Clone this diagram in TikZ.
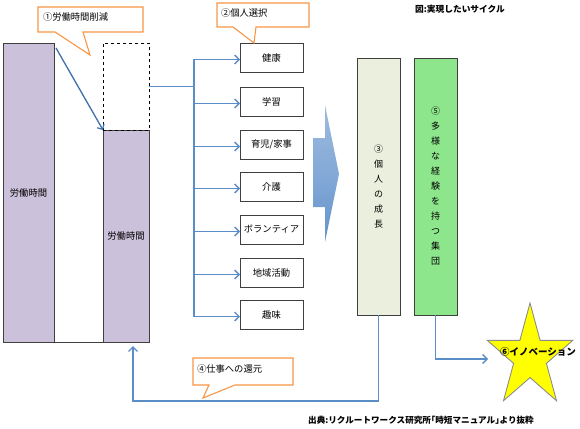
\documentclass[tikz,border=0pt]{standalone}
\usepackage{fontspec}
\newfontfamily\jp{Noto Sans CJK JP}
\usetikzlibrary{arrows.meta}
\definecolor{barpurple}{HTML}{CCC1DA}
\definecolor{edge}{HTML}{3F3F3F}
\definecolor{calloutline}{HTML}{F79646}
\definecolor{linkblue}{HTML}{5B8DC9}
\definecolor{cutblue}{HTML}{3F6FAE}
\definecolor{growthfill}{HTML}{EBF0DE}
\definecolor{groupfill}{HTML}{8EE68C}
\definecolor{staryellow}{HTML}{FFFF00}
\definecolor{stargray}{HTML}{8C8C8C}
\begin{document}
\begin{tikzpicture}[x=1pt,y=-1pt,
  every node/.style={font=\jp\fontsize{9.3}{11}\selectfont, inner sep=0pt, outer sep=0pt},
  bar/.style={draw=edge, line width=0.8pt, fill=barpurple, anchor=north west, minimum width=#1},
  bar/.default=46pt,
  choice/.style={draw=edge, line width=0.8pt, fill=white, minimum width=63pt, minimum height=29pt, anchor=north west},
  column/.style={draw=edge, line width=0.8pt, minimum width=43pt, minimum height=257pt, anchor=north west, align=center, font=\jp\fontsize{9}{15}\selectfont},
  link/.style={draw=linkblue, line width=1.4pt, -{Straight Barb[length=4.5pt,width=9pt,line width=1.3pt]}},
  plain/.style={draw=linkblue, line width=1.4pt},
  callout/.style={draw=calloutline, line width=1.1pt, fill=white},
  callouttext/.style={anchor=west, font=\jp\fontsize{9.3}{11}\selectfont},
]
\useasboundingbox (0,0) rectangle (580,428);

% working-time bars
\node[bar=51pt, minimum height=299pt] (bar1) at (3,43) {};
\node[bar, minimum height=212pt] (bar2) at (103,130) {};
\node[draw=black, dashed, line width=0.8pt, minimum width=46pt, minimum height=87pt, anchor=north west] (cut) at (103,43) {};
\draw[draw=edge, line width=0.8pt] (bar1.south east) -- (bar2.south west);
\node (lab1) at (bar1.center) {労働時間};
\node (lab2) at (bar2.center) {労働時間};
\draw[draw=cutblue, line width=1.3pt, -{Straight Barb[length=4pt,width=8pt,line width=1.2pt]}] ([xshift=2pt,yshift=-5pt]bar1.north east) -- (bar2.north west);

% callout 1
\draw[callout] (38,7) -- (143,7) -- (143,32) -- (83,32) -- (90,55) -- (55,32) -- (38,32) -- cycle;
\node[callouttext] (c1) at (43,17) {①労働時間削減};

% choices
\node[choice] (b1) at (240,43) {健康};
\node[choice] (b2) at (240,87) {学習};
\node[choice] (b3) at (240,130) {育児/家事};
\node[choice] (b4) at (240,172) {介護};
\node[choice] (b5) at (240,215) {ボランティア};
\node[choice] (b6) at (240,258) {地域活動};
\node[choice] (b7) at (240,300) {趣味};

\coordinate (split) at (194,86.5);
\draw[plain] (cut.east) -- (split);
\foreach \b in {b1,b2,b3,b4,b5,b6,b7} {
  \draw[link] (split) |- ([yshift=-2pt]\b.west);
}

% callout 2
\draw[callout] (217,3) -- (309,3) -- (309,27) -- (256,27) -- (254,43) -- (233,27) -- (217,27) -- cycle;
\node[callouttext] (c2) at (221,13) {②個人選択};

% block arrow
\shade[top color=linkblue!60!white, bottom color=linkblue!95!white, middle color=linkblue!75!white]
  (313,138) -- (325,138) -- (325,105) -- (339,174) -- (325,242) -- (325,207) -- (313,207) -- cycle;

% columns
\node[column, fill=growthfill] (growth) at (357,58) {③\\個\\人\\の\\成\\長};
\node[column, fill=groupfill] (group) at (414,58) {⑤\\多\\様\\な\\経\\験\\を\\持\\つ\\集\\団};

% star
\draw[fill=staryellow, draw=stargray, line width=0.9pt]
  (530,303) -- (540.1,340.3) -- (572.8,340.3) -- (546.4,363.4) -- (556.5,400.7)
  -- (530,377.6) -- (503.5,400.7) -- (513.6,363.4) -- (487.2,340.3) -- (519.9,340.3) -- cycle;
\node[font=\jp\bfseries\fontsize{9.5}{11}\selectfont] (innov) at (538,352) {⑥イノベーション};

\coordinate (starin) at (488,359);
\draw[link] (group.south) |- (starin);

% feedback
\coordinate (low) at (0,401);
\coordinate (back) at ([xshift=7pt,yshift=-4pt]bar2.south);
\draw[link] (growth.south) -- (growth.south |- low) -| (back);

% callout 4
\draw[callout] (193,358) -- (293,358) -- (293,385) -- (235,385) -- (203,398) -- (209,385) -- (193,385) -- cycle;
\node[callouttext] (c4) at (197,369) {④仕事への還元};

% title and source
\node[font=\jp\bfseries\fontsize{8.7}{10}\selectfont] (title) at (460,9) {図:実現したいサイクル};
\node[font=\jp\bfseries\fontsize{8.6}{10}\selectfont] (source) at (421,420) {出典:リクルートワークス研究所｢時短マニュアル｣より抜粋};
\end{tikzpicture}
\end{document}
